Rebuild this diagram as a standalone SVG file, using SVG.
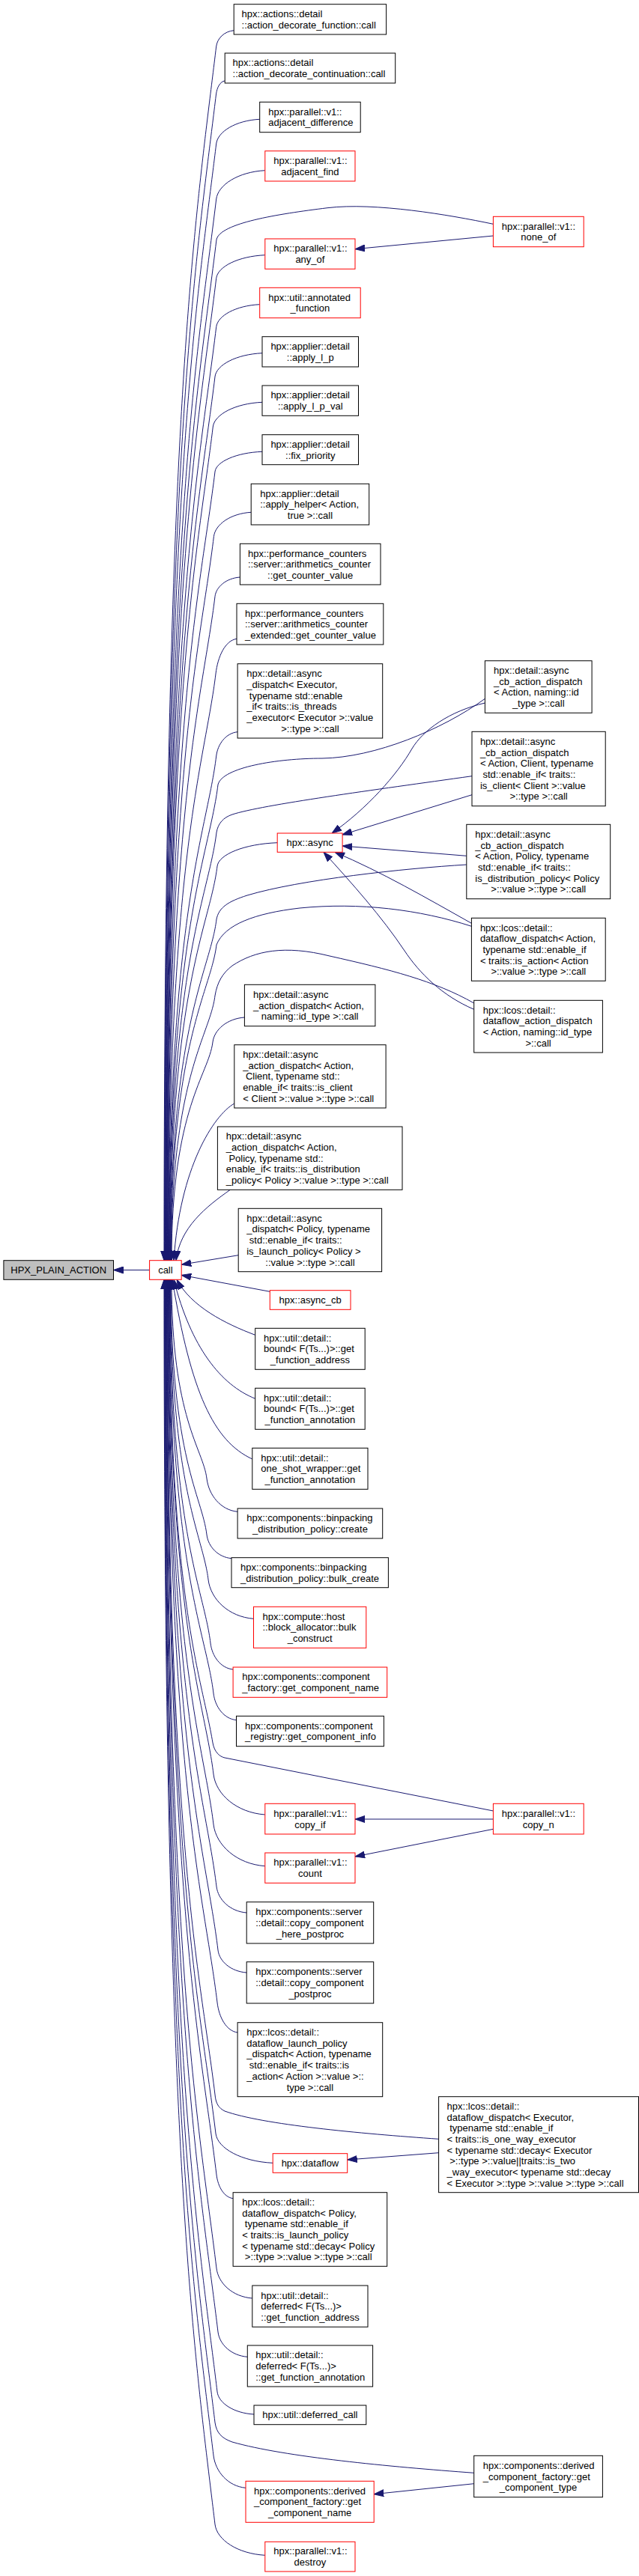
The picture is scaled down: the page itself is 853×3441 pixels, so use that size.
<svg xmlns="http://www.w3.org/2000/svg" width="853" height="3441" viewBox="0 0 853 3441">
<style>
.n rect{fill:#fff;stroke:#000;stroke-width:1}
.r rect{fill:#fff;stroke:#f00;stroke-width:1}
.g rect{fill:#bfbfbf;stroke:#000;stroke-width:1}
text{font-family:"Liberation Sans",Arial,sans-serif;font-size:13px;fill:#000}
.m{text-anchor:middle}
#edges path{fill:none;stroke:#191970;stroke-width:1;marker-end:url(#a)}
</style>
<defs>
<marker id="a" markerUnits="userSpaceOnUse" markerWidth="13" markerHeight="10" refX="13" refY="5" orient="auto"><path d="M0,0.5 L13,5 L0,9.5 z" fill="#191970" stroke="#191970" stroke-width="1"/></marker>
</defs>
<rect width="853" height="3441" fill="#fff"/>
<g id="edges">
<path d="M199.6,1696.5 L151.5,1696.5"/>
<path d="M312.2,40.7 C299.3,41.8 290,51.4 288.7,62 C259.5,305.3 219,548.5 219,1683.7"/>
<path d="M300.2,108 C293.8,108.9 289.6,117 288.5,126 C260.5,359.7 219.5,593.3 219.5,1683.7"/>
<path d="M346.7,159.3 C314.8,160.9 290.7,175.7 288.7,192 C261.8,415.8 220,639.5 220,1683.7"/>
<path d="M353.8,227.7 C318,229.6 291,246.9 288.7,266 C263.2,478.7 220.5,691.3 220.5,1683.7"/>
<path d="M658.4,299.3 C600,287 500,270 437,277.7 C370,286 294,298 289,320 C264.5,524.6 221,729 221,1683.7"/>
<path d="M353.8,340.7 C318,342.3 290.6,356.2 288.7,371.7 C265.1,568.5 221.5,765.3 221.5,1683.7"/>
<path d="M346.7,406.7 C314.8,408.2 290.5,421.7 288.7,436.7 C266.3,623.7 222,810.8 222,1683.7"/>
<path d="M350,471.7 C315.4,473.3 288.9,487.4 287,503 C265.7,680.1 222.5,857.2 222.5,1683.7"/>
<path d="M350,537.3 C313.9,538.9 286.3,553.7 284.3,570 C264.3,737 223,904.1 223,1683.7"/>
<path d="M350,603.3 C315.4,604.6 288.6,616.7 287,630 C268,788 223.5,946.1 223.5,1683.7"/>
<path d="M335.2,684.3 C307.8,685.9 287.3,700.5 285.4,716.7 C268,861.7 224,1006.8 224,1683.7"/>
<path d="M320.4,771 C302,772.3 288.5,783.9 287,796.7 C271,929.7 224.5,1062.8 224.5,1683.7"/>
<path d="M316,853.3 C300.6,855.6 290.8,876.7 288,900 C273.9,1017.6 225,1135.1 225,1683.7"/>
<path d="M317.1,977.7 C301.5,979.3 290.6,993.9 288.7,1010 C276.6,1111 225.5,1212.1 225.5,1683.7"/>
<path d="M647.4,933.3 C590,975 500,1012 430,1013 C370,1013 297,1025 291,1048 C279.6,1143.4 226,1238.7 226,1683.7"/>
<path d="M630,1036.7 C500,1055 350,1075 310,1088 C298,1092 291,1100 289,1112 C278.7,1197.8 226.5,1283.5 226.5,1683.7"/>
<path d="M370.2,1125.7 C326.1,1127.3 291.9,1141.4 290,1157 C280.5,1236 227,1315 227,1683.7"/>
<path d="M622.8,1155 C540,1160 400,1175 330,1196 C305,1204 292,1212 289,1228 C280.8,1296.4 227.5,1364.7 227.5,1683.7"/>
<path d="M629.4,1237.3 C560,1215 480,1205 400,1213 C340,1220 300,1235 289,1262 C281.4,1325.3 228,1388.5 228,1683.7"/>
<path d="M632.7,1340 C580,1310 520,1295 440,1277 C380,1262 340,1270 310,1290 C297,1300 290,1312 287,1330 C280.6,1383 228.5,1436.1 228.5,1683.7"/>
<path d="M326.4,1359 C303.1,1360.7 286,1375.5 284,1392 C278.7,1435.8 229,1479.5 229,1683.7"/>
<path d="M312.8,1474 C285,1490 240,1560 232,1683.7"/>
<path d="M307.3,1589.3 C275,1612 240,1640 235,1683.7"/>
<path d="M318.2,1676.7 L242.2,1689.3"/>
<path d="M360.3,1725.3 L242.2,1703.3"/>
<path d="M340.7,1783.3 C300,1768 255,1745 236,1709.3"/>
<path d="M340.7,1868.3 C295,1850 255,1800 232,1709.3"/>
<path d="M336.8,1949 C285,1925 255,1860 230,1709.3"/>
<path d="M317.1,2019.3 C294.5,2017.1 278.7,1997.2 276,1975 C271.2,1935.1 229,1895.3 229,1709.3"/>
<path d="M309,2081.7 C290.9,2080.1 277.9,2065.9 276,2050 C269.9,1998.9 228,1947.8 228,1709.3"/>
<path d="M338.5,2162.3 C305.2,2159.7 281.1,2136.2 278,2110 C270.8,2049.9 227.5,1989.8 227.5,1709.3"/>
<path d="M311.1,2230 C294.5,2228.3 283.1,2212.5 281,2195 C272.3,2122.1 227,2049.3 227,1709.3"/>
<path d="M315.5,2297.7 C298.7,2295.9 287.1,2279.9 285,2262 C275.1,2179.1 226.5,2096.2 226.5,1709.3"/>
<path d="M658.4,2419 L300,2348 C293,2346.5 286,2340 284,2328 C268.5,2235.2 226,2142.4 226,1709.3"/>
<path d="M353.8,2424 C316,2421.3 288.2,2397 285,2370 C273.1,2270.9 225.5,2171.8 225.5,1709.3"/>
<path d="M353.8,2492.7 C316,2489.9 288.3,2464.9 285,2437 C271.9,2327.8 225,2218.7 225,1709.3"/>
<path d="M329.2,2555 C307.1,2553.3 291.1,2537.5 289,2520 C274.4,2398.4 224.5,2276.8 224.5,1709.3"/>
<path d="M329.2,2635 C308.2,2633.5 292.8,2620 291,2605 C274.9,2470.6 224,2336.3 224,1709.3"/>
<path d="M317.1,2715 C302.2,2713 292.4,2695 290,2675 C272.6,2530.1 223.5,2385.3 223.5,1709.3"/>
<path d="M585.6,2857.3 C480,2850 350,2838 300,2820 C292,2816 288,2810 287,2798 C267.4,2634.7 223,2471.4 223,1709.3"/>
<path d="M364.2,2889.3 C322.3,2887.3 290.4,2869.7 288,2850 C267.5,2678.9 222.5,2507.8 222.5,1709.3"/>
<path d="M311.1,2936.7 C299,2935.1 290.9,2920.9 289,2905 C267.5,2725.6 222,2546.3 222,1709.3"/>
<path d="M336.8,3070 C310.5,3068 291.4,3050 289,3030 C265.2,2831.9 221.5,2633.8 221.5,1709.3"/>
<path d="M330.3,3148.3 C308.7,3146.6 293,3131.7 291,3115 C265.7,2904.1 221,2693.3 221,1709.3"/>
<path d="M339,3225 C312,3223.5 291.8,3210 290,3195 C263.3,2972.1 220.5,2749.3 220.5,1709.3"/>
<path d="M632.7,3303.3 C520,3295 380,3282 310,3262 C296,3257 289,3250 287,3236 C259.5,3007 220,2778 220,1709.3"/>
<path d="M328,3323.3 C304.4,3321.1 287.6,3301.7 285,3280 C256.7,3044.4 219.5,2808.8 219.5,1709.3"/>
<path d="M353.8,3413.3 C317.1,3411.2 289.5,3392.7 287,3372 C257.1,3122.6 219,2873.2 219,1709.3"/>
<path d="M658.4,315 L474,332.7"/>
<path d="M647.4,939 C600,950 565,975 550,1000 C530,1035 490,1080 443,1113"/>
<path d="M630,1061.7 L457,1115"/>
<path d="M622.8,1143.3 L457.1,1130"/>
<path d="M629.4,1233.3 C570,1200 510,1165 447,1138.3"/>
<path d="M632.7,1348.3 C590,1330 560,1300 540,1270 C510,1225 470,1180 432,1138.3"/>
<path d="M658.4,2430 L474,2430"/>
<path d="M658.4,2443.3 L474,2480"/>
<path d="M585.6,2875.7 L463.7,2885"/>
<path d="M632.7,3317.7 L499.2,3331.7"/>
</g>
<g id="hpx_plain_action" class="g"><rect x="4.9" y="1683.7" width="146.6" height="25.6"/><text class="m" x="78.2" y="1701.1">HPX_PLAIN_ACTION</text></g>
<g id="call" class="r"><rect x="199.6" y="1683.7" width="42.6" height="25.6"/><text class="m" x="220.9" y="1701.1">call</text></g>
<g id="n1" class="n"><rect x="312.2" y="5.7" width="203.4" height="40.3"/><text x="322.6" y="23.1">hpx::actions::detail</text><text x="322.6" y="37.8">::action_decorate_function::call</text></g>
<g id="n2" class="n"><rect x="300.2" y="71" width="227.5" height="40"/><text x="310.6" y="88.25">hpx::actions::detail</text><text x="310.6" y="102.95">::action_decorate_continuation::call</text></g>
<g id="n3" class="n"><rect x="346.7" y="136.3" width="134.5" height="40.4"/><text x="358.2" y="153.75">hpx::parallel::v1::</text><text x="358.2" y="168.45">adjacent_difference</text></g>
<g id="n4" class="r"><rect x="353.8" y="201.7" width="120.2" height="40.3"/><text x="365.3" y="219.1">hpx::parallel::v1::</text><text class="m" x="413.9" y="233.8">adjacent_find</text></g>
<g id="n5" class="r"><rect x="353.8" y="319" width="120.2" height="40.3"/><text x="365.3" y="336.4">hpx::parallel::v1::</text><text class="m" x="413.9" y="351.1">any_of</text></g>
<g id="n6" class="r"><rect x="346.7" y="384.3" width="134.5" height="40.4"/><text x="358.2" y="401.75">hpx::util::annotated</text><text class="m" x="413.95" y="416.45">_function</text></g>
<g id="n7" class="n"><rect x="350" y="449.7" width="128.5" height="40.3"/><text x="361.4" y="467.1">hpx::applier::detail</text><text class="m" x="414.25" y="481.8">::apply_l_p</text></g>
<g id="n8" class="n"><rect x="350" y="515" width="128.5" height="40.3"/><text x="361.4" y="532.4">hpx::applier::detail</text><text class="m" x="414.25" y="547.1">::apply_l_p_val</text></g>
<g id="n9" class="n"><rect x="350" y="580.7" width="128.5" height="40"/><text x="361.4" y="597.95">hpx::applier::detail</text><text class="m" x="414.25" y="612.65">::fix_priority</text></g>
<g id="n10" class="n"><rect x="335.2" y="646.3" width="157.5" height="54.7"/><text x="347.2" y="663.55">hpx::applier::detail</text><text x="347.2" y="678.25">::apply_helper&lt; Action,</text><text class="m" x="413.95" y="692.95">true &gt;::call</text></g>
<g id="n11" class="n"><rect x="320.4" y="726.3" width="187.6" height="54.7"/><text x="331" y="743.55">hpx::performance_counters</text><text x="331" y="758.25">::server::arithmetics_counter</text><text class="m" x="414.2" y="772.95">::get_counter_value</text></g>
<g id="n12" class="n"><rect x="316" y="806.3" width="195.8" height="54.7"/><text x="327" y="823.55">hpx::performance_counters</text><text x="327" y="838.25">::server::arithmetics_counter</text><text x="327" y="852.95">_extended::get_counter_value</text></g>
<g id="n13" class="n"><rect x="317.1" y="886.7" width="193.6" height="99.3"/><text x="329.2" y="904.2">hpx::detail::async</text><text x="329.2" y="918.9">_dispatch&lt; Executor,</text><text x="329.2" y="933.6" xml:space="preserve"> typename std::enable</text><text x="329.2" y="948.3">_if&lt; traits::is_threads</text><text x="329.2" y="963">_executor&lt; Executor &gt;::value</text><text class="m" x="413.9" y="977.7">&gt;::type &gt;::call</text></g>
<g id="n14" class="r"><rect x="370.2" y="1113" width="86.9" height="25.3"/><text class="m" x="413.65" y="1130.25">hpx::async</text></g>
<g id="n15" class="n"><rect x="326.4" y="1315.3" width="174.5" height="55.4"/><text x="338" y="1332.9">hpx::detail::async</text><text x="338" y="1347.6">_action_dispatch&lt; Action,</text><text class="m" x="413.65" y="1362.3">naming::id_type &gt;::call</text></g>
<g id="n16" class="n"><rect x="312.8" y="1395.7" width="202.3" height="84.3"/><text x="324.3" y="1413.05">hpx::detail::async</text><text x="324.3" y="1427.75">_action_dispatch&lt; Action,</text><text x="324.3" y="1442.45" xml:space="preserve"> Client, typename std::</text><text x="324.3" y="1457.15">enable_if&lt; traits::is_client</text><text x="324.3" y="1471.85">&lt; Client &gt;::value &gt;::type &gt;::call</text></g>
<g id="n17" class="n"><rect x="290.4" y="1505" width="246.6" height="84.3"/><text x="301.8" y="1522.35">hpx::detail::async</text><text x="301.8" y="1537.05">_action_dispatch&lt; Action,</text><text x="301.8" y="1551.75" xml:space="preserve"> Policy, typename std::</text><text x="301.8" y="1566.45">enable_if&lt; traits::is_distribution</text><text x="301.8" y="1581.15">_policy&lt; Policy &gt;::value &gt;::type &gt;::call</text></g>
<g id="n18" class="n"><rect x="318.2" y="1614.3" width="191.4" height="84.4"/><text x="329.2" y="1631.7">hpx::detail::async</text><text x="329.2" y="1646.4">_dispatch&lt; Policy, typename</text><text x="329.2" y="1661.1" xml:space="preserve"> std::enable_if&lt; traits::</text><text x="329.2" y="1675.8">is_launch_policy&lt; Policy &gt;</text><text class="m" x="413.9" y="1690.5">::value &gt;::type &gt;::call</text></g>
<g id="n19" class="r"><rect x="360.3" y="1723.7" width="107.7" height="25.6"/><text class="m" x="414.15" y="1741.1">hpx::async_cb</text></g>
<g id="n20" class="n"><rect x="340.7" y="1774.3" width="146.5" height="55"/><text x="352.1" y="1791.7">hpx::util::detail::</text><text x="352.1" y="1806.4">bound&lt; F(Ts...)&gt;::get</text><text class="m" x="413.95" y="1821.1">_function_address</text></g>
<g id="n21" class="n"><rect x="340.7" y="1854.3" width="146.5" height="55"/><text x="352.1" y="1871.7">hpx::util::detail::</text><text x="352.1" y="1886.4">bound&lt; F(Ts...)&gt;::get</text><text class="m" x="413.95" y="1901.1">_function_annotation</text></g>
<g id="n22" class="n"><rect x="336.8" y="1934.3" width="154.2" height="55"/><text x="348.3" y="1951.7">hpx::util::detail::</text><text x="348.3" y="1966.4">one_shot_wrapper::get</text><text class="m" x="413.9" y="1981.1">_function_annotation</text></g>
<g id="n23" class="n"><rect x="317.1" y="2015" width="193.6" height="40"/><text x="329.2" y="2032.25">hpx::components::binpacking</text><text class="m" x="413.9" y="2046.95">_distribution_policy::create</text></g>
<g id="n24" class="n"><rect x="309" y="2080.7" width="209.4" height="40"/><text x="321" y="2097.95">hpx::components::binpacking</text><text x="321" y="2112.65">_distribution_policy::bulk_create</text></g>
<g id="n25" class="r"><rect x="338.5" y="2146.3" width="150.3" height="55"/><text x="350.5" y="2163.7">hpx::compute::host</text><text x="350.5" y="2178.4">::block_allocator::bulk</text><text class="m" x="413.65" y="2193.1">_construct</text></g>
<g id="n26" class="r"><rect x="311.1" y="2227" width="205.6" height="40.3"/><text x="323.2" y="2244.4">hpx::components::component</text><text x="323.2" y="2259.1">_factory::get_component_name</text></g>
<g id="n27" class="n"><rect x="315.5" y="2292.3" width="196.9" height="40.4"/><text x="327" y="2309.75">hpx::components::component</text><text x="327" y="2324.45">_registry::get_component_info</text></g>
<g id="n28" class="r"><rect x="353.8" y="2409.3" width="120.2" height="40.7"/><text x="365.3" y="2426.9">hpx::parallel::v1::</text><text class="m" x="413.9" y="2441.6">copy_if</text></g>
<g id="n29" class="r"><rect x="353.8" y="2475" width="120.2" height="40.3"/><text x="365.3" y="2492.4">hpx::parallel::v1::</text><text class="m" x="413.9" y="2507.1">count</text></g>
<g id="n30" class="n"><rect x="329.2" y="2540.7" width="169.5" height="55.3"/><text x="341.2" y="2558.25">hpx::components::server</text><text x="341.2" y="2572.95">::detail::copy_component</text><text class="m" x="413.95" y="2587.65">_here_postproc</text></g>
<g id="n31" class="n"><rect x="329.2" y="2620.7" width="169.5" height="55.3"/><text x="341.2" y="2638.25">hpx::components::server</text><text x="341.2" y="2652.95">::detail::copy_component</text><text class="m" x="413.95" y="2667.65">_postproc</text></g>
<g id="n32" class="n"><rect x="317.1" y="2701.7" width="193.6" height="99"/><text x="329.2" y="2719.05">hpx::lcos::detail::</text><text x="329.2" y="2733.75">dataflow_launch_policy</text><text x="329.2" y="2748.45">_dispatch&lt; Action, typename</text><text x="329.2" y="2763.15" xml:space="preserve"> std::enable_if&lt; traits::is</text><text x="329.2" y="2777.85">_action&lt; Action &gt;::value &gt;::</text><text class="m" x="413.9" y="2792.55">type &gt;::call</text></g>
<g id="n33" class="r"><rect x="364.2" y="2876.7" width="99.5" height="25.6"/><text class="m" x="413.95" y="2894.1">hpx::dataflow</text></g>
<g id="n34" class="n"><rect x="311.1" y="2928.7" width="205.6" height="98.6"/><text x="323.2" y="2945.85">hpx::lcos::detail::</text><text x="323.2" y="2960.55">dataflow_dispatch&lt; Policy,</text><text x="323.2" y="2975.25" xml:space="preserve"> typename std::enable_if</text><text x="323.2" y="2989.95">&lt; traits::is_launch_policy</text><text x="323.2" y="3004.65">&lt; typename std::decay&lt; Policy</text><text x="323.2" y="3019.35" xml:space="preserve"> &gt;::type &gt;::value &gt;::type &gt;::call</text></g>
<g id="n35" class="n"><rect x="336.8" y="3053" width="154.2" height="55.3"/><text x="348.3" y="3070.55">hpx::util::detail::</text><text x="348.3" y="3085.25">deferred&lt; F(Ts...)&gt;</text><text x="348.3" y="3099.95">::get_function_address</text></g>
<g id="n36" class="n"><rect x="330.3" y="3133" width="167.3" height="55"/><text x="341.2" y="3150.4">hpx::util::detail::</text><text x="341.2" y="3165.1">deferred&lt; F(Ts...)&gt;</text><text x="341.2" y="3179.8">::get_function_annotation</text></g>
<g id="n37" class="n"><rect x="339" y="3213" width="149.8" height="25.7"/><text class="m" x="413.9" y="3230.45">hpx::util::deferred_call</text></g>
<g id="n38" class="r"><rect x="328" y="3314.3" width="171.2" height="55"/><text x="339" y="3331.7">hpx::components::derived</text><text x="339" y="3346.4">_component_factory::get</text><text class="m" x="413.6" y="3361.1">_component_name</text></g>
<g id="n39" class="r"><rect x="353.8" y="3395.3" width="120.2" height="39.7"/><text x="365.3" y="3412.4">hpx::parallel::v1::</text><text class="m" x="413.9" y="3427.1">destroy</text></g>
<g id="r1" class="r"><rect x="658.4" y="289.3" width="120.8" height="40.4"/><text x="669.8" y="306.75">hpx::parallel::v1::</text><text class="m" x="718.8" y="321.45">none_of</text></g>
<g id="r2" class="n"><rect x="647.4" y="882.7" width="142.7" height="69.6"/><text x="659" y="900.05">hpx::detail::async</text><text x="659" y="914.75">_cb_action_dispatch</text><text x="659" y="929.45">&lt; Action, naming::id</text><text class="m" x="718.75" y="944.15">_type &gt;::call</text></g>
<g id="r3" class="n"><rect x="630" y="977.3" width="178.2" height="99.4"/><text x="640.9" y="994.85">hpx::detail::async</text><text x="640.9" y="1009.55">_cb_action_dispatch</text><text x="640.9" y="1024.25">&lt; Action, Client, typename</text><text x="640.9" y="1038.95" xml:space="preserve"> std::enable_if&lt; traits::</text><text x="640.9" y="1053.65">is_client&lt; Client &gt;::value</text><text class="m" x="719.1" y="1068.35">&gt;::type &gt;::call</text></g>
<g id="r4" class="n"><rect x="622.8" y="1101.3" width="191.9" height="99.4"/><text x="634.3" y="1118.85">hpx::detail::async</text><text x="634.3" y="1133.55">_cb_action_dispatch</text><text x="634.3" y="1148.25">&lt; Action, Policy, typename</text><text x="634.3" y="1162.95" xml:space="preserve"> std::enable_if&lt; traits::</text><text x="634.3" y="1177.65">is_distribution_policy&lt; Policy</text><text class="m" x="718.75" y="1192.35">&gt;::value &gt;::type &gt;::call</text></g>
<g id="r5" class="n"><rect x="629.4" y="1226.3" width="178.8" height="84"/><text x="640.9" y="1243.5">hpx::lcos::detail::</text><text x="640.9" y="1258.2">dataflow_dispatch&lt; Action,</text><text x="640.9" y="1272.9" xml:space="preserve"> typename std::enable_if</text><text x="640.9" y="1287.6">&lt; traits::is_action&lt; Action</text><text class="m" x="718.8" y="1302.3">&gt;::value &gt;::type &gt;::call</text></g>
<g id="r6" class="n"><rect x="632.7" y="1336.3" width="171.7" height="69.7"/><text x="644.7" y="1353.7">hpx::lcos::detail::</text><text x="644.7" y="1368.4">dataflow_action_dispatch</text><text x="644.7" y="1383.1">&lt; Action, naming::id_type</text><text class="m" x="718.55" y="1397.8">&gt;::call</text></g>
<g id="r7" class="r"><rect x="658.4" y="2409.3" width="120.8" height="40.7"/><text x="669.8" y="2426.9">hpx::parallel::v1::</text><text class="m" x="718.8" y="2441.6">copy_n</text></g>
<g id="r8" class="n"><rect x="585.6" y="2800.7" width="266.9" height="128"/><text x="596.6" y="2817.85">hpx::lcos::detail::</text><text x="596.6" y="2832.55">dataflow_dispatch&lt; Executor,</text><text x="596.6" y="2847.25" xml:space="preserve"> typename std::enable_if</text><text x="596.6" y="2861.95">&lt; traits::is_one_way_executor</text><text x="596.6" y="2876.65">&lt; typename std::decay&lt; Executor</text><text x="596.6" y="2891.35" xml:space="preserve"> &gt;::type &gt;::value||traits::is_two</text><text x="596.6" y="2906.05">_way_executor&lt; typename std::decay</text><text x="596.6" y="2920.75">&lt; Executor &gt;::type &gt;::value &gt;::type &gt;::call</text></g>
<g id="r9" class="n"><rect x="632.7" y="3280.3" width="171.7" height="55.4"/><text x="644.7" y="3297.9">hpx::components::derived</text><text x="644.7" y="3312.6">_component_factory::get</text><text class="m" x="718.55" y="3327.3">_component_type</text></g>
</svg>
